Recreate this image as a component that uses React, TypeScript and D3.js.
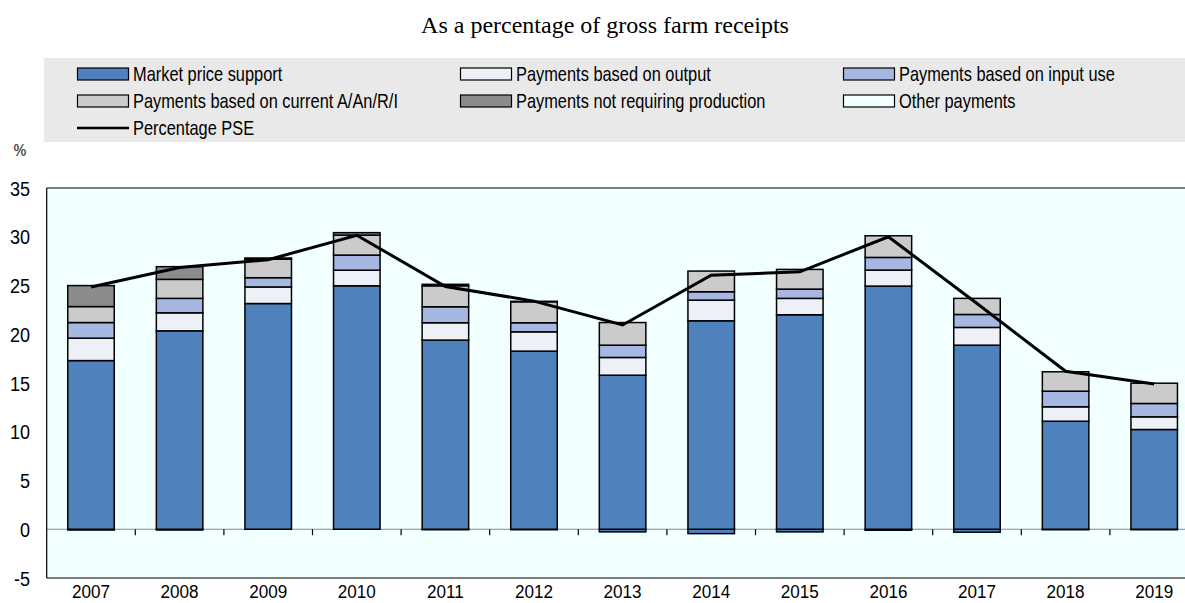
import React from "react";
import * as d3 from "d3";

const years = ["2007","2008","2009","2010","2011","2012","2013","2014","2015","2016","2017","2018","2019"];
const marketPriceSupport = [17.3, 20.35, 23.15, 24.97, 19.4, 18.27, 15.8, 21.38, 22.0, 24.94, 18.88, 11.08, 10.23];
const marketPriceSupportNeg = [-0.08, -0.08, 0, 0, -0.05, -0.05, -0.27, -0.45, -0.27, -0.1, -0.3, -0.05, -0.05];
const paymentsOutput = [2.3, 1.85, 1.7, 1.6, 1.78, 1.98, 1.82, 2.12, 1.68, 1.64, 1.82, 1.48, 1.3];
const paymentsInput = [1.6, 1.48, 0.95, 1.55, 1.64, 0.93, 1.26, 0.86, 0.95, 1.3, 1.33, 1.6, 1.37];
const paymentsCurrent = [1.64, 1.95, 1.9, 2.05, 2.15, 2.15, 2.32, 2.12, 2.02, 2.22, 1.65, 1.99, 2.08];
const paymentsNonProd = [2.15, 1.3, 0.12, 0.25, 0.15, 0.05, 0, 0, 0, 0, 0, 0, 0];
const otherPayments = [0, 0, 0, 0, 0, 0, 0, 0, 0, 0, 0, 0, 0];
const percentagePSE = [24.85, 26.85, 27.65, 30.15, 24.9, 23.4, 20.95, 26.05, 26.4, 30.0, 23.15, 16.2, 14.9];
const yTicks = [-5, 0, 5, 10, 15, 20, 25, 30, 35];

const seriesKeys = ["mpsNeg", "mps", "output", "input", "current", "nonProd", "other"];
const colors: Record<string, string> = {
  mpsNeg: "#4f81bd",
  mps: "#4f81bd",
  output: "#eef0f8",
  input: "#a6b8e2",
  current: "#cbcbcb",
  nonProd: "#8c8c8c",
  other: "#f0ffff",
};

const legendItems = [
  { label: "Market price support", key: "mps", col: 0, row: 0 },
  { label: "Payments based on output", key: "output", col: 1, row: 0 },
  { label: "Payments based on input use", key: "input", col: 2, row: 0 },
  { label: "Payments based on current A/An/R/I", key: "current", col: 0, row: 1 },
  { label: "Payments not requiring production", key: "nonProd", col: 1, row: 1 },
  { label: "Other payments", key: "other", col: 2, row: 1 },
  { label: "Percentage PSE", key: "line", col: 0, row: 2 },
];

const font = "'Liberation Sans', Arial, sans-serif";

function NText(props: { x: number; y: number; size: number; sx: number; anchor?: string; children: React.ReactNode; fill?: string; weight?: string }) {
  return (
    <text
      transform={`translate(${props.x},${props.y}) scale(${props.sx},1)`}
      textAnchor={props.anchor || "start"}
      fontFamily={font}
      fontSize={props.size}
      fontWeight={props.weight || "normal"}
      fill={props.fill || "#000"}
    >
      {props.children}
    </text>
  );
}

export default function App() {
  const W = 1185, H = 603;
  const left = 46.7, right = 1198.5, top = 188, bottom = 578;
  const x = d3.scaleBand<string>().domain(years).range([left, right]).paddingInner(0).paddingOuter(0);
  const step = x.step();
  const barW = step * 0.525;
  const y = d3.scaleLinear().domain([-5, 35]).range([bottom, top]);

  const rows = years.map((yr, i) => ({
    year: yr,
    mpsNeg: marketPriceSupportNeg[i],
    mps: marketPriceSupport[i],
    output: paymentsOutput[i],
    input: paymentsInput[i],
    current: paymentsCurrent[i],
    nonProd: paymentsNonProd[i],
    other: otherPayments[i],
  }));
  const stacked = d3.stack<any>().keys(seriesKeys).offset(d3.stackOffsetDiverging)(rows);
  const cx = (yr: string) => (x(yr) as number) + step / 2;
  const line = d3.line<number>().x((_, i) => cx(years[i])).y((v) => y(v));

  const colX = [77, 460, 843];
  const rowY = [74, 101, 128];

  return (
    <svg width={W} height={H} style={{ position: "absolute", left: 0, top: 0, background: "#fff" }}>
      <text x={605} y={33} textAnchor="middle" fontFamily="'Liberation Serif', 'Times New Roman', serif" fontSize={24} fill="#000">
        As a percentage of gross farm receipts
      </text>
      <rect x={44} y={58} width={W - 44} height={84} fill="#e9e9e9" />
      {legendItems.map((it) => {
        const lx = colX[it.col];
        const ly = rowY[it.row];
        return (
          <g key={it.label}>
            {it.key === "line" ? (
              <line x1={lx} x2={lx + 52} y1={ly} y2={ly} stroke="#000" strokeWidth={2.5} />
            ) : (
              <rect x={lx + 0.5} y={ly - 6} width={51} height={12} fill={colors[it.key]} stroke="#000" strokeWidth={1.2} />
            )}
            <NText x={lx + 56} y={ly + 7} size={20} sx={0.82}>{it.label}</NText>
          </g>
        );
      })}
      <NText x={20} y={156} size={16} sx={0.9} anchor="middle" fill="#555" weight="bold">%</NText>

      <rect x={left} y={top} width={right - left} height={bottom - top} fill="#f2ffff" />
      <line x1={left} x2={right} y1={y(0)} y2={y(0)} stroke="#888" strokeWidth={1.2} />
      {years.slice(1).map((yr) => (
        <line key={"t" + yr} x1={x(yr) as number} x2={x(yr) as number} y1={y(0)} y2={y(0) + 6} stroke="#000" strokeWidth={1.2} />
      ))}
      {stacked.map((s) => (
        <g key={s.key}>
          {s.map((d, i) => {
            const v0 = d[0], v1 = d[1];
            if (Math.abs(v1 - v0) < 1e-9) return null;
            const y0 = y(Math.max(v0, v1));
            const y1 = y(Math.min(v0, v1));
            return (
              <rect
                key={i}
                x={cx(years[i]) - barW / 2}
                y={y0}
                width={barW}
                height={y1 - y0}
                fill={colors[s.key as string]}
                stroke="#000"
                strokeWidth={1.5}
              />
            );
          })}
        </g>
      ))}
      <path d={line(percentagePSE) as string} fill="none" stroke="#000" strokeWidth={3} />

      <line x1={left} x2={right} y1={top} y2={top} stroke="#000" strokeWidth={1.2} />
      <line x1={left} x2={left} y1={top} y2={bottom} stroke="#000" strokeWidth={1.2} />
      <line x1={left} x2={right} y1={bottom} y2={bottom} stroke="#000" strokeWidth={1.2} />

      {yTicks.map((t) => (
        <NText key={"y" + t} x={30} y={y(t) + 7.5} size={21} sx={0.86} anchor="end">{t}</NText>
      ))}
      {years.map((yr) => (
        <NText key={"x" + yr} x={cx(yr)} y={598} size={19} sx={0.9} anchor="middle">{yr}</NText>
      ))}
    </svg>
  );
}
